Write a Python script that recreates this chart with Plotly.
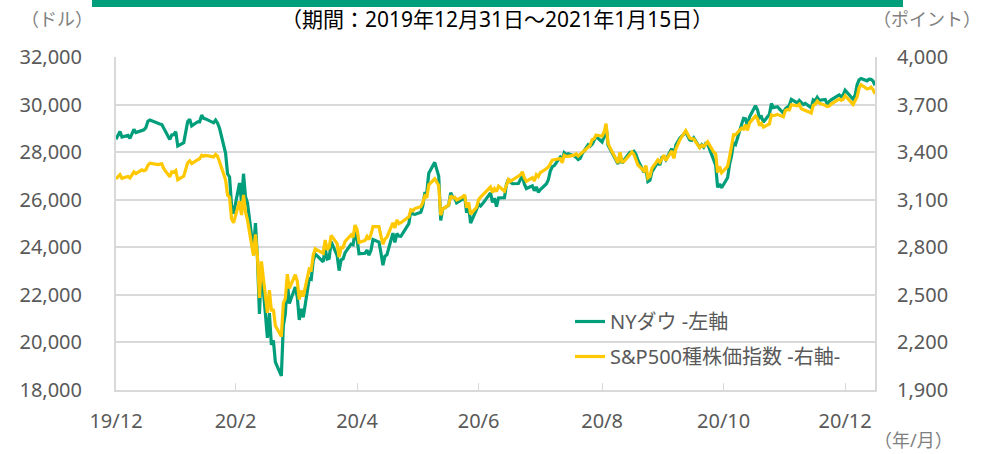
import plotly.graph_objects as go

# ---- data ----
month_days = {
    "2019-12": [31],
    "2020-01": [2,3,6,7,8,9,10,13,14,15,16,17,21,22,23,24,27,28,29,30,31],
    "2020-02": [3,4,5,6,7,10,11,12,13,14,18,19,20,21,24,25,26,27,28],
    "2020-03": [2,3,4,5,6,9,10,11,12,13,16,17,18,19,20,23,24,25,26,27,30,31],
    "2020-04": [1,2,3,6,7,8,9,13,14,15,16,17,20,21,22,23,24,27,28,29,30],
    "2020-05": [1,4,5,6,7,8,11,12,13,14,15,18,19,20,21,22,26,27,28,29],
    "2020-06": [1,2,3,4,5,8,9,10,11,12,15,16,17,18,19,22,23,24,25,26,29,30],
    "2020-07": [1,2,6,7,8,9,10,13,14,15,16,17,20,21,22,23,24,27,28,29,30,31],
    "2020-08": [3,4,5,6,7,10,11,12,13,14,17,18,19,20,21,24,25,26,27,28,31],
    "2020-09": [1,2,3,4,8,9,10,11,14,15,16,17,18,21,22,23,24,25,28,29,30],
    "2020-10": [1,2,5,6,7,8,9,12,13,14,15,16,19,20,21,22,23,26,27,28,29,30],
    "2020-11": [2,3,4,5,6,9,10,11,12,13,16,17,18,19,20,23,24,25,27,30],
    "2020-12": [1,2,3,4,7,8,9,10,11,14,15,16,17,18,21,22,23,24,28,29,30,31],
    "2021-01": [4,5,6,7,8,11,12,13,14,15],
}
dates = [f"{m}-{d:02d}" for m, days in month_days.items() for d in days]

dow = [
    28538,
    28868,28634,28703,28583,28745,28957,28824,28907,28940,29030,29298,29348,29196,29186,29160,28990,28536,28723,28734,28859,28256,
    28400,28808,29291,29380,29103,29277,29276,29551,29424,29398,29232,29348,29220,28992,27961,27081,26957,25766,25409,
    26703,25917,27091,26121,25865,23851,25018,23553,21200,23185,20189,21237,19899,20087,19174,18592,20704,21201,22552,21637,22328,21917,
    20944,21413,21053,22680,22654,23434,23720,23391,23950,23505,23538,24242,23650,23019,23475,23516,23775,24134,24101,24634,24346,
    23724,23750,23883,23665,23876,24331,24222,23764,23248,23625,23685,24597,24207,24576,24474,24465,24995,25548,25401,25383,
    25475,25742,26270,26282,27111,27572,27272,26990,25128,25606,25763,26290,26120,26080,25871,26025,26156,25446,25745,25016,25596,25813,
    25735,25827,26287,25890,26067,25706,26075,26086,26643,26870,26734,26672,26681,26840,27005,26652,26470,26585,26379,26540,26314,26428,
    26664,26828,27202,27387,27433,27791,27687,27977,27897,27931,27845,27779,27693,27740,27930,28309,28249,28332,28493,28654,28430,
    28646,29101,28293,28133,27501,27940,27535,27666,27993,27995,28032,27902,27657,27148,27288,26763,26815,27174,27584,27452,27782,
    27817,27683,28149,27773,28303,28426,28587,28838,28680,28514,28494,28606,28195,28309,28211,28364,28336,27685,27463,26520,26660,26502,
    26925,27481,27848,28391,28323,29158,29421,29398,29080,29480,29950,29784,29438,29483,29263,29591,30046,29872,29910,29639,
    29824,29883,29970,30218,30070,30174,30068,29999,30046,29861,30199,30155,30304,30179,30216,30015,30129,30200,30404,30335,30409,30606,
    30224,30392,30829,31041,31098,30998,31068,31061,30991,30814,
]

sp500 = [
    3231,
    3258,3235,3246,3237,3253,3275,3265,3288,3283,3289,3317,3330,3321,3321,3326,3295,3244,3276,3273,3284,3226,
    3249,3298,3334,3345,3328,3352,3358,3380,3374,3380,3370,3386,3373,3338,3226,3128,3116,2979,2954,
    3090,3003,3130,3024,2972,2747,2882,2741,2481,2711,2386,2529,2398,2409,2305,2237,2448,2476,2630,2541,2627,2585,
    2471,2527,2489,2664,2659,2750,2790,2762,2846,2784,2800,2875,2823,2737,2799,2798,2837,2878,2863,2940,2912,
    2831,2843,2868,2849,2882,2930,2930,2870,2820,2852,2864,2954,2923,2972,2949,2955,2992,3036,3030,3044,
    3056,3081,3123,3112,3194,3232,3207,3190,3002,3041,3067,3125,3113,3115,3098,3118,3131,3050,3084,3009,3053,3100,
    3116,3130,3180,3145,3170,3152,3185,3155,3197,3227,3216,3225,3251,3257,3276,3236,3216,3239,3218,3258,3246,3271,
    3295,3306,3327,3349,3352,3360,3333,3380,3373,3373,3381,3389,3375,3385,3397,3431,3443,3478,3484,3508,3500,
    3527,3580,3455,3427,3331,3399,3339,3341,3383,3401,3385,3357,3319,3282,3315,3237,3247,3298,3351,3336,3363,
    3381,3348,3408,3361,3419,3447,3477,3535,3512,3489,3484,3484,3427,3443,3436,3453,3465,3401,3391,3271,3310,3270,
    3310,3370,3444,3510,3509,3551,3545,3573,3537,3585,3627,3610,3568,3582,3558,3578,3635,3630,3638,3622,
    3662,3669,3666,3699,3692,3702,3673,3668,3663,3647,3695,3702,3722,3709,3695,3687,3690,3703,3735,3727,3732,3756,
    3701,3726,3748,3804,3825,3799,3801,3810,3795,3768,
]

tick_dates = ["2019-12-31", "2020-02-29", "2020-04-30", "2020-06-30", "2020-08-31", "2020-10-31", "2020-12-31"]
tick_labels = ["19/12", "20/2", "20/4", "20/6", "20/8", "20/10", "20/12"]
left_ticks = [18000, 20000, 22000, 24000, 26000, 28000, 30000, 32000]
right_ticks = [1900, 2200, 2500, 2800, 3100, 3400, 3700, 4000]

assert len(dates) == len(dow) == len(sp500)

GREEN = "#009E7A"
YELLOW = "#FFC800"
GRID = "#D9D9D9"
GRAYTXT = "#595959"
UNITTXT = "#7F7F7F"
FONT = "Noto Sans, Noto Sans CJK JP"

fig = go.Figure()
fig.add_trace(go.Scatter(x=dates, y=dow, name="NYダウ -左軸", mode="lines",
                         line=dict(color=GREEN, width=3.2), yaxis="y", legendgroup="a"))
fig.add_trace(go.Scatter(x=dates, y=sp500, name="S&P500種株価指数 -右軸-", mode="lines",
                         line=dict(color=YELLOW, width=3.2), yaxis="y2", legendgroup="b"))

W, H = 993, 454
L, R, T, B = 116, 875, 57, 390


def px_x(x):
    return (x - L) / (R - L)


def px_y(y):
    return (B - y) / (B - T)


fig.update_layout(
    width=W, height=H,
    margin=dict(l=L, r=W - R, t=T, b=H - B),
    paper_bgcolor="white", plot_bgcolor="white",
    font=dict(family=FONT, color=GRAYTXT, size=18),
    showlegend=True,
    legend=dict(x=px_x(570), y=px_y(302), xanchor="left", yanchor="top",
                bgcolor="rgba(0,0,0,0)", font=dict(size=20, color=GRAYTXT, family=FONT),
                traceorder="grouped", tracegroupgap=6),
    xaxis=dict(type="date", range=["2019-12-31", "2021-01-15"],
               tickvals=tick_dates, ticktext=tick_labels,
               showgrid=False, showline=True, linecolor=GRID, linewidth=2,
               ticks="inside", ticklen=7, tickcolor=GRID, tickwidth=1,
               tickfont=dict(size=20, color=GRAYTXT, family=FONT), ticklabelstandoff=12),
    yaxis=dict(range=[18000, 32000], tickvals=left_ticks, tickformat=",d",
               showgrid=True, gridcolor=GRID, gridwidth=2,
               showline=True, linecolor=GRID, linewidth=2,
               zeroline=False, ticks="", tickfont=dict(size=20, color=GRAYTXT, family=FONT),
               ticklabelstandoff=28),
    yaxis2=dict(range=[1900, 4000], tickvals=right_ticks, tickformat=",d",
                overlaying="y", side="right", showgrid=False,
                showline=True, linecolor=GRID, linewidth=2,
                zeroline=False, ticks="", tickfont=dict(size=20, color=GRAYTXT, family=FONT),
                ticklabelstandoff=16),
)

# top bar
fig.add_shape(type="rect", xref="paper", yref="paper",
              x0=px_x(92), x1=px_x(903), y0=px_y(7), y1=px_y(0),
              fillcolor=GREEN, line=dict(width=0), layer="above")


def add_text(text, x, y, size, color):
    fig.add_annotation(text=text, xref="paper", yref="paper",
                       x=px_x(x), y=px_y(y), xanchor="center", yanchor="middle",
                       showarrow=False, font=dict(size=size, color=color, family=FONT))


add_text("（期間：2019年12月31日～2021年1月15日）", 497, 19, 21, "#000000")
add_text("（ドル）", 57, 19, 18, UNITTXT)
add_text("（ポイント）", 927, 19, 18, UNITTXT)
add_text("（年/月）", 913, 440, 18, UNITTXT)

fig.write_html("out.html", config={"displayModeBar": False},
               post_script="document.body.style.margin='0';")
